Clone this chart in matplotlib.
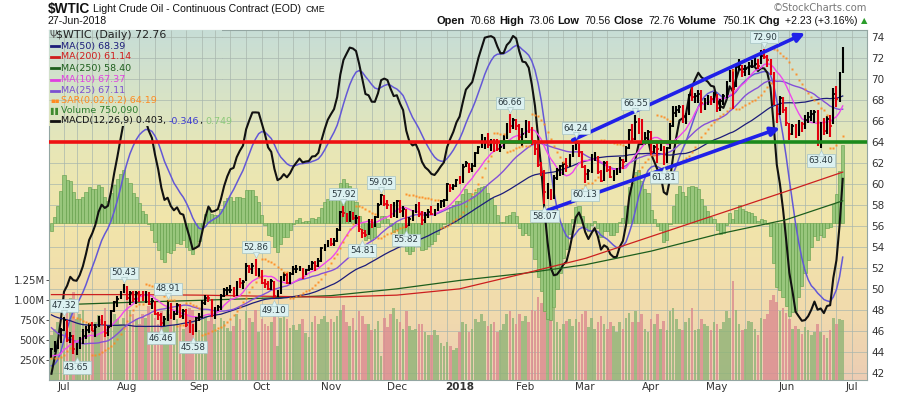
import numpy as np
import pandas as pd
import matplotlib
matplotlib.use("Agg")
import matplotlib.pyplot as plt
from matplotlib.colors import LinearSegmentedColormap
from matplotlib.transforms import offset_copy

# ---- $WTIC daily bars, 27-Jun-2017 .. 27-Jun-2018 ----
holidays = ["2017-07-04", "2017-09-04", "2017-11-23", "2017-12-25", "2018-01-01",
            "2018-01-15", "2018-02-19", "2018-03-30", "2018-05-28"]

closes = [
    44.24, 44.74, 44.93, 46.04,
    # Jul
    47.07, 45.13, 45.52, 44.23, 44.40, 45.04, 45.49, 46.08, 46.54, 46.02,
    46.40, 47.12, 46.79, 45.77, 46.34, 47.89, 48.75, 49.04, 49.71, 50.17,
    # Aug
    49.16, 49.59, 49.03, 49.58, 49.39, 49.17, 49.56, 48.59, 48.82, 47.59, 47.55, 46.78,
    47.09, 48.51, 47.37, 47.64, 48.41, 47.43, 47.87, 46.57, 46.44, 45.96, 47.23,
    # Sep
    47.29, 48.66, 49.16, 49.09, 47.48, 48.07, 48.23, 49.30, 49.89, 49.89,
    49.91, 49.48, 50.69, 50.55, 50.66, 52.22, 51.88, 52.14, 51.56, 51.67,
    # Oct
    50.58, 50.42, 49.98, 50.79, 49.29, 49.58, 50.92, 51.30, 50.60, 51.45, 51.87,
    51.88, 52.04, 51.29, 51.84, 51.90, 52.47, 52.18, 52.64, 53.90, 54.15, 54.38,
    # Nov
    54.30, 54.54, 55.64, 57.35, 57.20, 56.81, 57.17, 56.74, 56.76, 55.70, 55.33,
    55.14, 56.55, 56.09, 56.83, 58.02, 58.95, 58.11, 57.99, 57.30, 57.40,
    # Dec
    58.36, 57.47, 57.62, 55.96, 56.69, 57.36, 57.99, 57.14, 56.60, 57.04,
    57.30, 57.16, 57.46, 58.09, 58.36, 58.47, 59.97, 59.64, 59.84, 60.42,
    # Jan
    60.37, 61.63, 62.01, 61.44, 61.73, 62.96, 63.57, 63.80, 64.30, 63.73, 63.97,
    63.95, 63.37, 63.57, 64.47, 65.61, 65.51, 66.14, 65.56, 64.50, 64.73,
    # Feb
    65.80, 65.45, 64.15, 63.39, 61.79, 61.15, 59.20, 59.29, 59.19, 60.60,
    61.34, 61.68, 61.90, 61.68, 62.77, 63.55, 63.91, 63.01, 61.64,
    # Mar
    60.99, 61.25, 62.57, 62.60, 61.15, 60.32, 62.04, 61.36, 60.71, 60.96, 61.19,
    62.34, 62.06, 63.40, 65.17, 64.30, 65.88, 65.55, 64.25, 64.38, 64.94,
    # Apr
    63.01, 63.51, 63.37, 63.54, 62.06, 63.42, 65.51, 66.82, 67.07, 67.39, 66.22,
    66.52, 68.47, 68.29, 68.38, 68.64, 67.70, 68.05, 68.19, 68.10, 68.57,
    # May
    67.25, 67.93, 68.43, 69.72, 70.73, 69.06, 71.14, 71.36, 70.70, 70.96, 71.31,
    71.49, 71.49, 71.28, 72.24, 72.13, 71.84, 70.71, 67.88, 66.73, 68.21, 67.04,
    # Jun
    65.81, 64.75, 65.52, 64.73, 65.95, 65.74, 66.10, 66.36, 66.64, 66.89,
    65.06, 65.85, 65.07, 66.22, 65.54, 68.58, 68.08, 70.53, 72.76,
]

highs = [
    44.35, 45.00, 45.09, 46.27,
    47.32, 47.06, 45.84, 45.64, 44.81, 45.37, 46.16, 46.44, 46.70, 46.88,
    46.61, 47.45, 47.48, 46.90, 46.50, 48.00, 48.86, 49.29, 49.81, 50.43,
    50.23, 49.77, 49.80, 49.82, 49.81, 49.79, 49.83, 49.68, 49.09, 48.85, 47.77, 47.71,
    47.39, 48.91, 48.62, 47.92, 48.66, 48.53, 48.05, 48.03, 46.99, 46.64, 47.33,
    47.65, 48.92, 49.42, 49.42, 49.06, 48.30, 48.45, 49.53, 50.12, 50.22,
    50.39, 50.20, 50.78, 51.02, 50.83, 52.43, 52.32, 52.47, 52.86, 51.99,
    51.77, 50.91, 50.75, 50.98, 50.73, 49.87, 51.18, 51.56, 51.50, 51.59, 52.22,
    52.27, 52.21, 52.02, 51.92, 52.30, 52.64, 52.67, 52.93, 53.98, 54.32, 54.70,
    54.88, 54.81, 55.82, 57.45, 57.92, 57.26, 57.40, 57.36, 57.03, 56.93, 55.69,
    55.61, 56.70, 56.70, 56.99, 58.22, 59.05, 58.99, 58.44, 58.09, 58.25,
    58.44, 58.45, 57.93, 57.66, 56.89, 57.50, 58.13, 58.24, 57.46, 57.29,
    57.60, 57.87, 57.61, 58.22, 58.48, 58.54, 60.08, 59.98, 59.99, 60.51,
    60.74, 61.95, 62.21, 62.04, 61.97, 63.07, 63.67, 64.77, 64.45, 64.89, 64.28,
    64.30, 64.30, 63.81, 64.64, 65.83, 66.66, 66.34, 66.24, 65.74, 65.33,
    66.10, 66.02, 65.46, 64.24, 63.78, 62.11, 61.30, 60.08, 59.50, 60.84,
    61.50, 61.84, 62.07, 62.44, 62.82, 63.73, 64.24, 64.05, 63.14,
    61.80, 61.44, 62.84, 63.07, 62.65, 61.35, 62.18, 62.23, 61.74, 61.34, 61.56,
    62.54, 62.40, 63.66, 65.30, 65.70, 66.55, 66.26, 66.21, 65.00, 65.19,
    65.02, 63.69, 63.95, 63.97, 63.67, 63.49, 65.83, 67.45, 67.44, 67.55, 67.55,
    66.75, 68.64, 69.56, 68.65, 68.93, 68.95, 68.22, 68.50, 68.39, 68.81,
    68.60, 68.07, 68.63, 69.82, 70.84, 71.00, 71.36, 71.89, 71.36, 71.40, 71.63,
    71.84, 72.00, 71.92, 72.83, 72.90, 72.27, 71.92, 70.73, 67.56, 68.42, 68.29,
    67.35, 65.83, 65.69, 65.71, 66.15, 65.93, 66.57, 66.89, 67.04, 67.09,
    67.04, 65.95, 66.31, 66.45, 66.61, 69.15, 69.31, 70.73, 73.06,
]

lows = [
    43.36, 43.93, 44.28, 44.85,
    46.01, 44.94, 44.80, 43.76, 43.65, 44.26, 44.72, 45.18, 45.81, 45.93,
    45.42, 46.33, 46.51, 45.40, 45.51, 46.31, 47.82, 48.29, 48.99, 49.56,
    48.95, 48.48, 48.78, 48.59, 48.78, 48.85, 48.67, 48.42, 48.12, 47.46, 47.03, 46.46,
    46.48, 46.92, 47.11, 47.06, 47.52, 47.26, 47.13, 46.34, 45.80, 45.58, 45.86,
    46.91, 47.23, 48.41, 48.71, 47.33, 47.10, 47.85, 47.98, 49.20, 49.40,
    49.61, 49.25, 49.36, 50.09, 49.96, 50.75, 51.51, 51.42, 51.24, 51.14,
    50.42, 50.08, 49.86, 49.88, 49.10, 49.20, 49.51, 50.71, 50.46, 50.50, 51.35,
    51.50, 51.68, 50.93, 51.32, 51.67, 51.83, 51.66, 52.06, 52.60, 53.58, 54.03,
    54.04, 54.05, 54.46, 55.54, 56.82, 56.39, 56.42, 56.59, 56.21, 55.41, 54.81,
    54.98, 55.15, 55.82, 55.90, 56.77, 58.03, 57.87, 57.66, 56.75, 56.82,
    56.75, 57.22, 56.85, 55.82, 55.95, 56.50, 57.26, 56.84, 56.11, 56.31,
    56.78, 57.06, 56.96, 57.44, 57.73, 57.83, 58.42, 59.24, 59.42, 59.73,
    59.96, 60.10, 61.59, 61.09, 61.17, 61.62, 62.85, 63.44, 63.30, 63.40, 63.14,
    63.07, 63.12, 63.08, 63.32, 64.29, 64.90, 65.23, 65.11, 63.87, 63.67,
    64.40, 64.86, 63.76, 62.80, 61.60, 60.80, 58.07, 58.62, 58.45, 58.53,
    60.36, 60.75, 60.88, 61.14, 61.58, 62.55, 63.29, 62.62, 61.51,
    60.13, 60.35, 61.03, 62.20, 60.92, 60.20, 60.32, 61.15, 60.56, 60.25, 60.84,
    61.05, 61.45, 62.10, 63.30, 64.15, 64.23, 64.80, 64.03, 64.00, 64.08,
    62.81, 62.96, 62.00, 63.12, 61.81, 61.97, 63.39, 65.41, 66.39, 66.76, 65.86,
    65.71, 66.56, 67.90, 67.72, 67.78, 66.76, 67.08, 67.50, 67.51, 67.74,
    66.83, 66.95, 67.57, 68.19, 69.74, 67.20, 69.26, 70.92, 70.20, 70.30, 70.44,
    71.12, 71.24, 71.01, 71.45, 71.94, 71.21, 70.36, 67.55, 65.80, 66.57, 66.76,
    65.56, 64.22, 64.64, 64.37, 64.63, 64.92, 65.27, 65.85, 65.97, 65.85,
    63.59, 63.40, 64.67, 64.82, 64.50, 65.72, 67.39, 67.79, 70.56,
]

volumes_k = [
    560, 640, 720, 480,
    640, 980, 1020, 1100, 760, 820, 880, 700, 690, 650, 720, 810, 760, 900, 680, 870, 820, 760, 700, 780,
    1000, 880, 820, 760, 700, 820, 770, 920, 830, 780, 700, 860, 770, 880, 820, 690, 760, 700, 640, 830, 900, 870, 760,
    620, 780, 800, 740, 870, 700, 620, 780, 740, 650, 610, 680, 820, 760, 620, 860, 780, 720, 880, 600,
    760, 700, 680, 720, 880, 420, 780, 800, 760, 650, 690, 620, 700, 760, 590, 540, 720, 800, 700, 760, 800, 720,
    760, 720, 800, 880, 940, 720, 680, 780, 620, 860, 800, 700, 700, 620, 640, 740, 300, 780, 660, 820, 900,
    760, 720, 640, 860, 680, 620, 640, 700, 700, 600, 560, 560, 620, 560, 460, 420, 480, 420, 380, 400,
    600, 720, 700, 600, 640, 760, 720, 820, 740, 680, 700, 720, 600, 620, 700, 820, 860, 780, 700, 820, 740,
    800, 720, 880, 860, 1040, 960, 1100, 840, 780, 900, 720, 640, 700, 740, 760, 680, 760, 720, 820,
    860, 660, 780, 640, 720, 800, 700, 640, 720, 680, 600, 720, 640, 780, 840, 720, 860, 720, 820, 640, 600,
    760, 700, 820, 640, 740, 620, 860, 900, 760, 640, 620, 720, 780, 900, 620, 640, 760, 700, 680, 620, 720,
    700, 640, 720, 860, 780, 1240, 880, 700, 620, 640, 740, 720, 640, 560, 780, 760, 820, 1000, 1060, 980, 860, 900,
    840, 760, 640, 680, 640, 580, 660, 620, 560, 600, 700, 600, 560, 520, 620, 780, 700, 760, 750,
]

# closes 3-Apr-2017 .. 26-Jun-2017, only used to warm up MA(50) and MACD
pre_closes = [
    50.24, 51.03, 51.15, 51.70, 52.24, 53.08, 53.40, 53.11, 53.18, 52.65,
    52.41, 50.44, 50.27, 49.62, 49.23, 49.56, 49.62, 49.97, 49.33,
    48.84, 47.66, 47.82, 45.52, 46.22, 46.43, 45.88, 47.33, 47.83, 47.84, 48.85,
    48.66, 49.07, 49.35, 50.33, 50.73, 51.47, 51.36, 48.90, 49.80, 49.66, 48.32,
    48.36, 47.66, 47.40, 48.19, 45.72, 45.64, 45.83, 46.08, 46.46, 44.73,
    44.46, 44.74, 43.20, 43.23, 42.53, 42.74, 43.01, 43.38,
]

# long moving averages at month starts
ma_dates = ["2017-06-27", "2017-08-01", "2017-09-01", "2017-10-02", "2017-11-01",
            "2017-12-01", "2018-01-02", "2018-02-01", "2018-03-01", "2018-04-02",
            "2018-05-01", "2018-06-01", "2018-06-27"]
ma200_values = [49.45, 49.45, 49.40, 49.30, 49.20, 49.40, 50.00, 51.50, 52.90, 55.00, 57.10, 59.30, 61.14]
ma250_values = [48.45, 48.70, 48.90, 49.10, 49.35, 50.00, 50.80, 51.50, 52.30, 53.60, 55.20, 56.60, 58.40]

# swing high / low labels
label_dates = ["2017-07-03", "2017-07-10", "2017-07-31", "2017-08-16", "2017-08-18",
               "2017-08-30", "2017-09-28", "2017-10-06", "2017-11-07", "2017-11-15",
               "2017-11-24", "2017-12-06", "2018-01-25", "2018-02-09", "2018-02-26",
               "2018-03-01", "2018-03-23", "2018-04-06", "2018-05-22", "2018-06-18"]
label_values = [47.32, 43.65, 50.43, 46.46, 48.91, 45.58, 52.86, 49.10, 57.92, 54.81,
                59.05, 55.82, 66.66, 58.07, 64.24, 60.13, 66.55, 61.81, 72.90, 63.40]
label_kinds = "HLHLHLHLHLHLHLHLHLHL"

# ---- indicators ----
dates = pd.bdate_range("2017-06-27", "2018-06-27")
dates = dates[~dates.isin(pd.to_datetime(holidays))]
n = len(dates)
pos = np.arange(n)


def dpos(d):
    return dates.get_loc(pd.Timestamp(d))


c = np.array(closes)
h = np.array(highs)
l = np.array(lows)
vol = np.array(volumes_k) * 1000.0

full = pd.Series(pre_closes + closes)
npre = len(pre_closes)
ma10 = full.rolling(10).mean().values[npre:]
ma25 = full.rolling(25).mean().values[npre:]
ma50 = full.rolling(50).mean().values[npre:]
ema12 = full.ewm(span=12, adjust=False).mean()
ema26 = full.ewm(span=26, adjust=False).mean()
macd_full = ema12 - ema26
signal_full = macd_full.ewm(span=9, adjust=False).mean()
macd = macd_full.values[npre:]
signal = signal_full.values[npre:]
hist = macd - signal


def psar(hi, lo, step=0.02, max_step=0.2):
    out = np.zeros(len(hi))
    bull = True
    af = step
    ep = hi[0]
    out[0] = lo[0]
    for i in range(1, len(hi)):
        prev = out[i - 1]
        s = prev + af * (ep - prev)
        if bull:
            s = min(s, lo[i - 1], lo[max(i - 2, 0)])
            if lo[i] < s:
                bull, s, ep, af = False, ep, lo[i], step
            elif hi[i] > ep:
                ep, af = hi[i], min(af + step, max_step)
        else:
            s = max(s, hi[i - 1], hi[max(i - 2, 0)])
            if hi[i] > s:
                bull, s, ep, af = True, ep, hi[i], step
            elif lo[i] < ep:
                ep, af = lo[i], min(af + step, max_step)
        out[i] = s
    return out


sar = psar(h, l)
prev_c = np.r_[pre_closes[-1], c[:-1]]
up = c >= prev_c

# ---- layout (pixel geometry of the original) ----
W, H = 899, 396
fig = plt.figure(figsize=(W / 100, H / 100), dpi=100)
rect = [49 / W, 16 / H, 818 / W, 350 / H]
px_day = 3.14
x0 = 4 - 15 / px_day            # 3-Jul-2017 sits 15px right of the left edge
x1 = 4 + 803 / px_day
pmin, pmax = 41.30, 74.70
future_jul = n - 1 + 3          # 2-Jul-2018

cmap = LinearSegmentedColormap.from_list("bg", [
    (0.0, "#eccdb4"), (0.2, "#f1dbad"), (0.45, "#f2e5aa"),
    (0.65, "#e8e7b6"), (0.82, "#d7e3c7"), (1.0, "#c7ddd6")])
grad = np.linspace(0, 1, 350)[:, None]

ax_v = fig.add_axes(rect)
ax_m = fig.add_axes(rect)
ax_p = fig.add_axes(rect)
for a in (ax_m, ax_p):
    a.patch.set_visible(False)

# background, grid, volume
ax_v.imshow(grad, cmap=cmap, origin="lower", aspect="auto",
            extent=[x0, x1, 0, 4.375e6], zorder=0)
week = dates.to_period("W")
week_starts = [p for p in range(1, n) if week[p] != week[p - 1]] + [future_jul]
ax_v.vlines(week_starts, 0, 4.375e6, color="#a7b5ad", lw=0.6, alpha=0.8, zorder=1)
ax_v.hlines(np.arange(42, 75, 2), x0, x1, color="#a7b5ad", lw=0.6, alpha=0.8,
            zorder=1, transform=ax_p.transData)
vcol = np.where(up, "#8fb476", "#db8b8f")
ax_v.bar(pos, vol, width=0.82, color=vcol, alpha=0.8, zorder=2)
ax_v.set_xlim(x0, x1)
ax_v.set_ylim(0, 4.375e6)
ax_v.set_yticks([250e3, 500e3, 750e3, 1e6, 1.25e6])
ax_v.set_yticklabels(["250K", "500K", "750K", "1.00M", "1.25M"])
ax_v.tick_params(axis="y", length=2.5, width=0.6, pad=0.5, labelsize=7.3,
                 colors="#333333")
ax_v.tick_params(axis="x", bottom=False, labelbottom=False)
for s in ax_v.spines.values():
    s.set_visible(False)

# MACD behind price
ax_m.bar(pos, hist, width=1.0, color="#98c67c", edgecolor="#5d9b47", lw=0.4, zorder=2)
ax_m.plot(pos, signal, color="#6458d6", lw=1.1, zorder=3)
ax_m.plot(pos, macd, color="#111111", lw=1.5, zorder=4)
ax_m.set_xlim(x0, x1)
ax_m.set_ylim(-1.481, 1.821)
ax_m.axis("off")

# price panel
ax_p.plot([dpos(d) for d in ma_dates], ma250_values, color="#1d5e1d", lw=0.9, zorder=2)
ax_p.plot([dpos(d) for d in ma_dates], ma200_values, color="#cc1f1f", lw=0.9, zorder=2)
ax_p.plot(pos, ma50, color="#1c1c7a", lw=0.9, zorder=3)
ax_p.plot(pos, ma25, color="#8450d8", lw=1.0, zorder=3)
ax_p.plot(pos, ma10, color="#ee48ee", lw=1.0, zorder=3)
bcol = np.where(up, "#000000", "#e3000f")
ax_p.vlines(pos, l, h, colors=bcol, lw=1.5, zorder=4)
ax_p.hlines(c, pos, pos + 0.55, colors=bcol, lw=1.2, zorder=4)
ax_p.plot(pos, sar, "s", ms=2.0, color="#ff8a1f", mec="none", alpha=0.9, zorder=5)

# drawn lines and trend channel
ax_p.hlines(64, x0, dpos("2018-04-13"), color="#ee1111", lw=2.6, zorder=6)
ax_p.hlines(64, dpos("2018-01-22"), dpos("2018-02-05"), color="#1b8a1b", lw=2.6, zorder=7)
ax_p.hlines(64, dpos("2018-03-27"), x1, color="#1b8a1b", lw=2.6, zorder=7)
for (d0, p0), (d1, p1) in [(("2018-02-23", 64.2), ("2018-06-11", 74.4)),
                           (("2018-02-12", 57.5), ("2018-05-30", 65.35))]:
    ax_p.annotate("", xy=(dpos(d1), p1), xytext=(dpos(d0), p0), zorder=8,
                  arrowprops=dict(arrowstyle="-|>", color="#2020e8", lw=2.6,
                                  mutation_scale=13, shrinkA=0, shrinkB=0))

# swing labels with a small pointer towards the bar
up_ptr = offset_copy(ax_p.transData, fig=fig, x=0, y=3.0, units="points")
dn_ptr = offset_copy(ax_p.transData, fig=fig, x=0, y=-3.5, units="points")
for d, v, k in zip(label_dates, label_values, label_kinds):
    hi = k == "H"
    ax_p.annotate(f"{v:.2f}", xy=(dpos(d), v), xytext=(0, 5 if hi else -5.5),
                  textcoords="offset points", ha="center",
                  va="bottom" if hi else "top", fontsize=6.3, color="#2b3a40",
                  zorder=9, bbox=dict(boxstyle="square,pad=0.18", fc="#dcf1f1",
                                      ec="#a6c4c4", lw=0.5))
    ax_p.plot(dpos(d), v, marker="v" if hi else "^", ms=4.2, color="#dcf1f1",
              mec="#a6c4c4", mew=0.4, zorder=9.5, transform=up_ptr if hi else dn_ptr)

ax_p.set_xlim(x0, x1)
ax_p.set_ylim(pmin, pmax)
ax_p.yaxis.tick_right()
ax_p.set_yticks(np.arange(42, 75, 2))
ax_p.tick_params(axis="y", length=0, pad=3, labelsize=7.5, colors="#333333")
month_pos = [p for p in range(n) if p == 0 or dates[p].month != dates[p - 1].month][1:]
month_pos.append(future_jul)
month_lab = [dates[p].strftime("%b") if p < n else "Jul" for p in month_pos]
month_lab = ["2018" if (p < n and dates[p].month == 1) else m for p, m in zip(month_pos, month_lab)]
ax_p.set_xticks(month_pos)
ax_p.set_xticklabels(month_lab)
ax_p.tick_params(axis="x", length=0, pad=1.5, labelsize=7.5, colors="#333333")
for t in ax_p.get_xticklabels():
    if t.get_text() == "2018":
        t.set_fontweight("bold")
for s in ax_p.spines.values():
    s.set_color("#93a6a2")
    s.set_linewidth(0.8)

# legend backdrop (covers the indicator lines like the original)
lx, ly = (222 - 49) / 818, (380 - 126) / 350
row0 = int(ly * 350)
ax_p.imshow(grad[row0:], cmap=cmap, vmin=0, vmax=1, origin="lower", aspect="auto",
            extent=[0, lx, row0 / 350, 1], transform=ax_p.transAxes, zorder=20)
leg_x1 = x0 + (222 - 49) / px_day
leg_p0 = pmin + (pmax - pmin) * ly
ax_p.vlines([p for p in week_starts if p < leg_x1], leg_p0, pmax, color="#a7b5ad",
            lw=0.6, alpha=0.8, zorder=21)
ax_p.hlines([66, 68, 70, 72, 74], x0, leg_x1, color="#a7b5ad", lw=0.6, alpha=0.8, zorder=21)
ax_p.set_xlim(x0, x1)
ax_p.set_ylim(pmin, pmax)


def ftext(x, y, s, **kw):
    return fig.text(x / W, 1 - y / H, s, **kw)


renderer = fig.canvas.get_renderer()
legend_rows = [
    ("MA(50) 68.39", "#1c1c7a"), ("MA(200) 61.14", "#d01c1c"),
    ("MA(250) 58.40", "#1d5e1d"), ("MA(10) 67.37", "#e040e0"),
    ("MA(25) 67.11", "#7b4fd0")]
ftext(49.5, 35, "\u03a8", fontsize=7, color="#555555", va="center", zorder=30)
ftext(56, 35, "$WTIC (Daily) 72.76", fontsize=7.9, color="#222222", va="center", zorder=30)
ys = [46, 57, 68, 79.5, 90.5]
for (s, col), y in zip(legend_rows, ys):
    fig.lines.append(plt.Line2D([51 / W, 59 / W], [1 - y / H] * 2, color=col, lw=2,
                                transform=fig.transFigure, zorder=30))
    ftext(61, y, s, fontsize=6.8, color=col, va="center", zorder=30)
ftext(50, 101, "\u25aa\u25aa", fontsize=5, color="#ff8a1f", va="center", zorder=30)
ftext(61, 101, "SAR(0.02,0.2) 64.19", fontsize=6.8, color="#ff8a1f", va="center", zorder=30)
ftext(50, 111, "\u258c\u258c", fontsize=5, color="#3f8a2f", va="center", zorder=30)
ftext(61, 111, "Volume 750,090", fontsize=6.8, color="#2e7d2e", va="center", zorder=30)
fig.lines.append(plt.Line2D([51 / W, 59 / W], [1 - 121 / H] * 2, color="#111111", lw=2,
                            transform=fig.transFigure, zorder=30))
x = 61
for s, col in [("MACD(12,26,9) 0.403, ", "#111111"), ("-0.346", "#3a3ad0"),
               (", ", "#111111"), ("0.749", "#8cc97a")]:
    t = ftext(x, 121, s, fontsize=6.8, color=col, va="center", zorder=30)
    x += t.get_window_extent(renderer).width

# header
t = ftext(48, 9, "$WTIC", fontsize=9.8, weight="bold", family="Liberation Sans",
          va="center", color="#111111")
x = 48 + t.get_window_extent(renderer).width + 3
t = ftext(x, 9, "Light Crude Oil - Continuous Contract (EOD)", fontsize=7.6,
          family="Liberation Sans", va="center", color="#111111")
x += t.get_window_extent(renderer).width + 4
ftext(x, 9.5, "CME", fontsize=6.3, family="Liberation Sans", va="center", color="#111111")
ftext(48, 21, "27-Jun-2018", fontsize=7.6, family="Liberation Sans", va="center",
      color="#111111")
ftext(867, 8, "\u00a9StockCharts.com", fontsize=7.2, family="DejaVu Sans",
      va="center", ha="right", color="#777777")
pieces = [("Open", True), ("70.68", False), ("High", True), ("73.06", False),
          ("Low", True), ("70.56", False), ("Close", True), ("72.76", False),
          ("Volume", True), ("750.1K", False), ("Chg", True), ("+2.23 (+3.16%)", False)]
x = 867
t = ftext(x, 21, "\u25b2", fontsize=6, color="#2a9d2a", va="center", ha="right",
          family="DejaVu Sans")
x -= t.get_window_extent(renderer).width + 3
for s, bold in reversed(pieces):
    t = ftext(x, 21, s, fontsize=7.9 if bold else 7.6, weight="bold" if bold else "normal",
              family="Liberation Sans", va="center", ha="right", color="#111111")
    x -= t.get_window_extent(renderer).width + (3 if bold else 5)

fig.savefig("out.png", dpi=100)
